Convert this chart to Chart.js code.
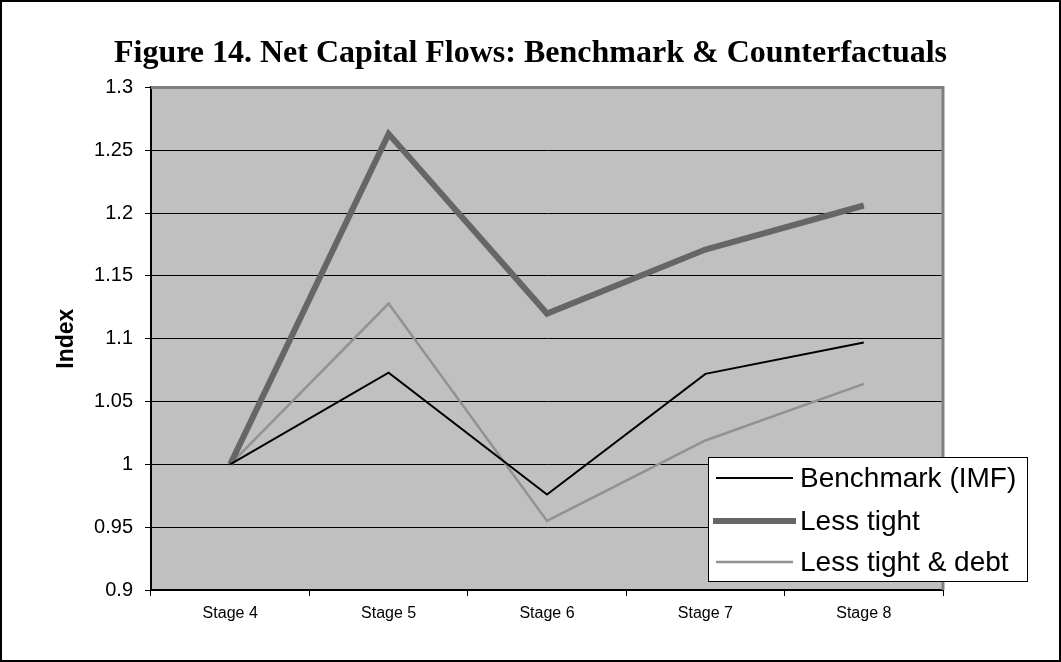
<!DOCTYPE html>
<html>
<head>
<meta charset="utf-8">
<script src="https://cdn.jsdelivr.net/npm/chart.js@4.4.1/dist/chart.umd.min.js"></script>
<style>
  html, body { margin: 0; padding: 0; background: #fff; }
  #wrap { width: 1061px; height: 662px; }
</style>
</head>
<body>
<div id="wrap"><canvas id="c" width="1061" height="662"></canvas></div>
<script>
// ---- data ----
const categories = ["Stage 4", "Stage 5", "Stage 6", "Stage 7", "Stage 8"];
const benchmark = [1.000, 1.073, 0.976, 1.072, 1.097];
const lessTight = [1.000, 1.263, 1.120, 1.171, 1.206];
const lessTightDebt = [1.000, 1.128, 0.955, 1.019, 1.064];
const yTickValues = [0.9, 0.95, 1, 1.05, 1.1, 1.15, 1.2, 1.25, 1.3];
const yTickLabels = ["0.9", "0.95", "1", "1.05", "1.1", "1.15", "1.2", "1.25", "1.3"];
const seriesNames = ["Benchmark (IMF)", "Less tight", "Less tight & debt"];
const titleText = "Figure 14. Net Capital Flows: Benchmark & Counterfactuals";
const yTitle = "Index";

const plotBg = {
  id: 'plotBg',
  beforeDraw(chart) {
    const {ctx, chartArea: a} = chart;
    ctx.save();
    ctx.fillStyle = '#c0c0c0';
    ctx.fillRect(a.left, a.top, a.right - a.left, a.bottom - a.top);
    ctx.restore();
  },
  afterDatasetsDraw(chart) {
    const {ctx, chartArea: a} = chart;
    ctx.save();
    ctx.strokeStyle = '#808080';
    ctx.lineWidth = 3;
    ctx.beginPath();
    ctx.moveTo(a.left, a.top);
    ctx.lineTo(a.right, a.top);
    ctx.lineTo(a.right, a.bottom);
    ctx.stroke();
    ctx.restore();
  },
  afterDraw(chart) {
    const {ctx} = chart;
    ctx.save();
    // outer frame
    ctx.strokeStyle = '#000';
    ctx.lineWidth = 2;
    ctx.strokeRect(1, 1, chart.width - 2, chart.height - 2);
    // legend box
    const bx = 708, by = 457, bw = 319, bh = 124;
    ctx.fillStyle = '#fff';
    ctx.fillRect(bx, by, bw, bh);
    ctx.strokeStyle = '#000';
    ctx.lineWidth = 1;
    ctx.strokeRect(bx + 0.5, by + 0.5, bw, bh);
    const rows = [478, 521, 562];
    ctx.font = '28px "Liberation Sans", Arial, sans-serif';
    ctx.textBaseline = 'middle';
    ctx.textAlign = 'left';
    chart.data.datasets.forEach((ds, i) => {
      const y = rows[i];
      ctx.strokeStyle = ds.borderColor;
      ctx.lineWidth = ds.borderWidth;
      ctx.lineCap = ds.borderWidth > 3 ? 'square' : 'butt';
      ctx.beginPath();
      ctx.moveTo(716, y);
      ctx.lineTo(793, y);
      ctx.stroke();
      ctx.fillStyle = '#000';
      ctx.fillText(ds.label, 800, y + 1);
    });
    ctx.restore();
  }
};

new Chart(document.getElementById('c'), {
  type: 'line',
  data: {
    labels: categories,
    datasets: [
      { label: seriesNames[0], data: benchmark, borderColor: '#000000', borderWidth: 2, pointRadius: 0, tension: 0, fill: false, yAxisID: 'y' },
      { label: seriesNames[1], data: lessTight, borderColor: '#666666', borderWidth: 6, pointRadius: 0, tension: 0, fill: false, yAxisID: 'y' },
      { label: seriesNames[2], data: lessTightDebt, borderColor: '#929292', borderWidth: 2.5, pointRadius: 0, tension: 0, fill: false, yAxisID: 'y' }
    ]
  },
  options: {
    responsive: false,
    animation: false,
    devicePixelRatio: 1,
    layout: { padding: { left: 0, right: 0, top: 0, bottom: 0 } },
    plugins: {
      legend: { display: false },
      tooltip: { enabled: false },
      title: {
        display: true,
        text: titleText,
        color: '#000',
        font: { family: '"Liberation Serif", "Times New Roman", serif', size: 32, weight: 'bold', lineHeight: 1.2 },
        padding: { top: 35, bottom: 14 }
      }
    },
    scales: {
      x: {
        type: 'category',
        offset: true,
        grid: { offset: true, drawOnChartArea: false, drawTicks: true, tickLength: 6, tickColor: '#000', color: '#000' },
        border: { display: true, color: '#000', width: 2 },
        ticks: { color: '#000', font: { family: '"Liberation Sans", Arial, sans-serif', size: 16 }, padding: 8, maxRotation: 0 },
        afterFit(scale) { scale.height = 72; }
      },
      y: {
        position: 'left',
        min: 0.9, max: 1.3,
        afterBuildTicks(scale) { scale.ticks = yTickValues.map(v => ({ value: v })); },
        grid: { color: '#000', lineWidth: 1, drawTicks: true, tickLength: 6, tickColor: '#000' },
        border: { display: true, color: '#000', width: 2 },
        ticks: {
          color: '#000',
          font: { family: '"Liberation Sans", Arial, sans-serif', size: 20 },
          padding: 12,
          callback(value) {
            const i = yTickValues.findIndex(v => Math.abs(v - value) < 1e-9);
            return i >= 0 ? yTickLabels[i] : '';
          }
        },
        title: {
          display: true,
          text: yTitle,
          color: '#000',
          font: { family: '"Liberation Sans", Arial, sans-serif', size: 23, weight: 'bold', lineHeight: 1.2 },
          padding: { top: 53, bottom: 0 }
        },
        afterFit(scale) { scale.width = 151; }
      },
      yRight: {
        type: 'linear',
        position: 'right',
        display: true,
        min: 0.9, max: 1.3,
        grid: { display: false, drawOnChartArea: false, drawTicks: false },
        border: { display: false },
        ticks: { display: false },
        title: { display: false },
        afterFit(scale) { scale.width = 118; }
      }
    }
  },
  plugins: [plotBg]
});
</script>
</body>
</html>
